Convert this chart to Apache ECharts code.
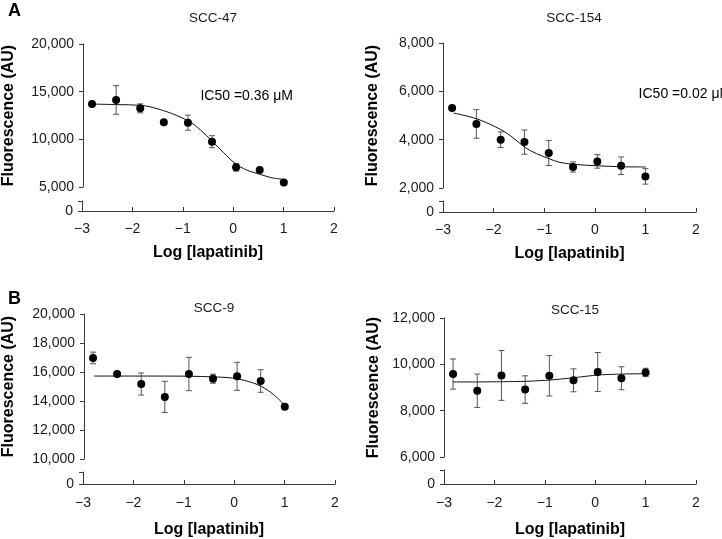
<!DOCTYPE html>
<html>
<head>
<meta charset="utf-8">
<script src="https://cdn.jsdelivr.net/npm/echarts@6/dist/echarts.min.js"></script>
<style>html,body{margin:0;padding:0;background:#fff}#c{width:722px;height:539px}</style>
</head>
<body>
<div id="c"></div>
<script>
// ---- data ----
const logConc = [-2.82, -2.34, -1.86, -1.39, -0.91, -0.43, 0.05, 0.52, 1.0];
const xTicks = [-3, 2, 1];

const scc47Mean = [13700, 14130, 13250, 11790, 11750, 9750, 7060, 6780, 5460];
const scc47Err  = [260, 1500, 470, 0, 790, 630, 390, 0, 0];
const scc47FitX = [-2.80, -2.33, -1.86, -1.39, -0.91, -0.66, -0.43, -0.20, 0.03, 0.26, 0.51, 0.75, 0.98];
const scc47FitY = [13700, 13640, 13570, 13000, 11950, 10980, 9820, 8600, 7480, 6780, 6360, 5980, 5810];
const scc47Range = [5000, 20000, 5000];

const scc154Mean = [5310, 4650, 4000, 3900, 3450, 2870, 3100, 2920, 2480];
const scc154Err  = [0, 590, 325, 500, 520, 210, 280, 365, 320];
const scc154FitX = [-2.79, -2.33, -1.85, -1.61, -1.38, -1.15, -0.90, -0.69, -0.42, 0.05, 0.53, 1.01];
const scc154FitY = [5100, 4860, 4410, 4070, 3680, 3420, 3210, 3060, 2980, 2920, 2880, 2870];
const scc154Range = [2000, 8000, 2000];

const scc9Mean = [16970, 15860, 15170, 14280, 15860, 15540, 15700, 15380, 13610];
const scc9Err  = [400, 150, 760, 1080, 1150, 310, 965, 780, 0];
const scc9FitX = [-2.80, -1.86, -0.90, -0.42, -0.15, 0.06, 0.31, 0.54, 0.78, 1.02];
const scc9FitY = [15720, 15720, 15710, 15660, 15620, 15520, 15310, 14990, 14430, 13630];
const scc9Range = [10000, 20000, 2000];

const scc15Mean = [9580, 8860, 9520, 8910, 9510, 9310, 9670, 9400, 9650];
const scc15Err  = [650, 720, 1075, 595, 875, 495, 840, 495, 180];
const scc15FitX = [-2.82, -2.34, -1.86, -1.39, -0.91, -0.43, 0.05, 0.52, 1.01];
const scc15FitY = [9240, 9240, 9250, 9265, 9320, 9420, 9540, 9580, 9595];
const scc15Range = [6000, 12000, 2000];

const titles = ['SCC-47', 'SCC-154', 'SCC-9', 'SCC-15'];
const ic50Texts = ['IC50 =0.36 \u03bcM', 'IC50 =0.02 \u03bcM'];
const ic50Anchor = [[-0.66, 14545], [0.866, 5890]];
const xName = 'Log [lapatinib]';
const yName = 'Fluorescence (AU)';

// ---- layout (px) ----
const FONT = 'Liberation Sans, Arial, Helvetica, sans-serif';
const AXIS = '#3a3a3a';
const TXT = '#1a1a1a';
const layout = [
  {left: 82,  width: 252, top: 44,  height: 143, lowTop: 201, lowH: 10, xMargin: 11, xGap: 34, yGap: 66, titleX: 208, titleY: 6, smooth: 0.35},
  {left: 443, width: 253, top: 43,  height: 145, lowTop: 201, lowH: 11, xMargin: 11, xGap: 34, yGap: 62, titleX: 569, titleY: 6, smooth: 0.35},
  {left: 83,  width: 252, top: 314, height: 145, lowTop: 472, lowH: 13, xMargin: 12, xGap: 38, yGap: 67, titleX: 209, titleY: 296, smooth: 0.35},
  {left: 444, width: 252, top: 318, height: 139, lowTop: 470, lowH: 15, xMargin: 12, xGap: 38, yGap: 62, titleX: 570, titleY: 298, smooth: 0.15}
];
const panels = [
  {mean: scc47Mean, err: scc47Err, fx: scc47FitX, fy: scc47FitY, range: scc47Range},
  {mean: scc154Mean, err: scc154Err, fx: scc154FitX, fy: scc154FitY, range: scc154Range},
  {mean: scc9Mean, err: scc9Err, fx: scc9FitX, fy: scc9FitY, range: scc9Range},
  {mean: scc15Mean, err: scc15Err, fx: scc15FitX, fy: scc15FitY, range: scc15Range}
];

const fmtNum = v => Number(v).toLocaleString('en-US');
const fmtX = v => (v < 0 ? '\u2212' + Math.abs(v) : String(v));

function renderErr(params, api) {
  const x = api.value(0), lo = api.value(1), hi = api.value(2);
  if (hi - lo <= 0) return null;
  const p1 = api.coord([x, hi]);
  const p2 = api.coord([x, lo]);
  const w = 3;
  const st = {stroke: '#555', lineWidth: 1};
  return {type: 'group', children: [
    {type: 'line', shape: {x1: p1[0], y1: p1[1], x2: p2[0], y2: p2[1]}, style: st},
    {type: 'line', shape: {x1: p1[0] - w, y1: p1[1], x2: p1[0] + w, y2: p1[1]}, style: st},
    {type: 'line', shape: {x1: p2[0] - w, y1: p2[1], x2: p2[0] + w, y2: p2[1]}, style: st}
  ]};
}

const grid = [], xAxis = [], yAxis = [], series = [], title = [];
title.push({text: 'A', left: 3, top: -3, textStyle: {fontFamily: FONT, fontSize: 18, fontWeight: 'bold', color: '#000'}});
title.push({text: 'B', left: 3, top: 285, textStyle: {fontFamily: FONT, fontSize: 18, fontWeight: 'bold', color: '#000'}});

panels.forEach((p, i) => {
  const L = layout[i];
  const gu = grid.length, gl = gu + 1;
  grid.push({left: L.left, top: L.top, width: L.width, height: L.height});
  grid.push({left: L.left, top: L.lowTop, width: L.width, height: L.lowH});
  title.push({text: titles[i], left: L.titleX, top: L.titleY, textAlign: 'center',
    textStyle: {fontFamily: FONT, fontSize: 13.5, fontWeight: 'normal', color: TXT}});

  // upper x (hidden), lower x (visible)
  xAxis.push({gridIndex: gu, type: 'value', min: xTicks[0], max: xTicks[1], interval: xTicks[2], show: false});
  xAxis.push({gridIndex: gl, type: 'value', min: xTicks[0], max: xTicks[1], interval: xTicks[2],
    axisLine: {show: true, onZero: false, lineStyle: {color: AXIS, width: 1}},
    axisTick: {show: true, inside: true, length: 4, lineStyle: {color: AXIS}},
    splitLine: {show: false},
    axisLabel: {formatter: fmtX, margin: L.xMargin, fontFamily: FONT, fontSize: 14, color: TXT},
    name: xName, nameLocation: 'middle', nameGap: L.xGap,
    nameTextStyle: {fontFamily: FONT, fontSize: 16, fontWeight: 'bold', color: '#000'}});

  // upper y, lower y
  yAxis.push({gridIndex: gu, type: 'value', min: p.range[0], max: p.range[1], interval: p.range[2],
    axisLine: {show: true, onZero: false, lineStyle: {color: AXIS, width: 1}},
    axisTick: {show: true, length: 4, lineStyle: {color: AXIS}},
    splitLine: {show: false},
    axisLabel: {formatter: fmtNum, margin: 9, fontFamily: FONT, fontSize: 14, color: TXT},
    name: yName, nameLocation: 'middle', nameGap: L.yGap, nameRotate: 90,
    nameTextStyle: {fontFamily: FONT, fontSize: 16, fontWeight: 'bold', color: '#000'}});
  yAxis.push({gridIndex: gl, type: 'value', min: 0, max: 1000, interval: 1000,
    axisLine: {show: true, onZero: false, lineStyle: {color: AXIS, width: 1}},
    axisTick: {show: true, length: 4, lineStyle: {color: AXIS}},
    splitLine: {show: false},
    axisLabel: {formatter: v => (v === 0 ? '0' : ''), margin: 9, fontFamily: FONT, fontSize: 14, color: TXT}});

  const xi = xAxis.length - 2, yi = yAxis.length - 2;
  series.push({type: 'custom', xAxisIndex: xi, yAxisIndex: yi, renderItem: renderErr, z: 2,
    data: logConc.map((x, k) => [x, p.mean[k] - p.err[k], p.mean[k] + p.err[k]])});
  series.push({type: 'line', xAxisIndex: xi, yAxisIndex: yi, smooth: L.smooth, showSymbol: false, symbol: 'none', z: 3,
    lineStyle: {color: '#111', width: 1}, data: p.fx.map((x, k) => [x, p.fy[k]])});
  series.push({type: 'scatter', xAxisIndex: xi, yAxisIndex: yi, symbol: 'circle', symbolSize: 8, z: 4,
    itemStyle: {color: '#000', opacity: 1}, data: logConc.map((x, k) => [x, p.mean[k]])});
  if (i < 2) {
    series.push({type: 'scatter', xAxisIndex: xi, yAxisIndex: yi, symbolSize: 0, silent: true, z: 5,
      data: [ic50Anchor[i]],
      label: {show: true, position: 'right', distance: 0, formatter: ic50Texts[i],
        fontFamily: FONT, fontSize: 14, color: '#000', opacity: 1}});
  }
});

const chart = echarts.init(document.getElementById('c'), null, {renderer: 'canvas'});
chart.setOption({animation: false, backgroundColor: '#fff', title, grid, xAxis, yAxis, series});
</script>
</body>
</html>
